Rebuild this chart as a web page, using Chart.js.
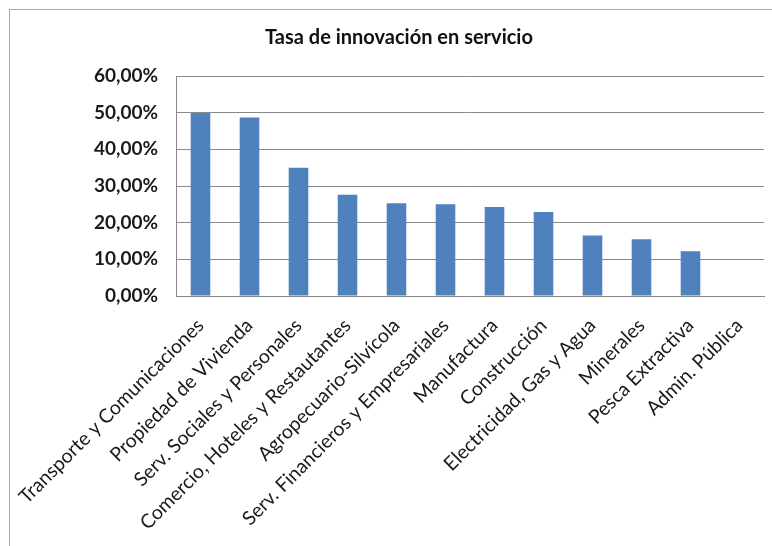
<!DOCTYPE html>
<html lang="es">
<head>
<meta charset="utf-8">
<title>Tasa de innovación en servicio</title>
<script src="https://cdn.jsdelivr.net/npm/chart.js@4.4.1/dist/chart.umd.min.js"></script>
<style>
    html, body { margin: 0; padding: 0; background: #fff; overflow: hidden; }
    #wrap { position: relative; width: 772px; height: 546px; }
    #frame {
        position: absolute; left: 9px; top: 9px; width: 800px; height: 600px;
        border: 1px solid #a9a9a9; box-sizing: border-box;
    }
    canvas { position: absolute; left: 0; top: 0; }
</style>
</head>
<body>
<div id="wrap">
    <div id="frame"></div>
    <canvas id="chart" width="772" height="546"></canvas>
</div>
<script>
const sectores = [
    'Transporte y Comunicaciones',
    'Propiedad de Vivienda',
    'Serv. Sociales y Personales',
    'Comercio, Hoteles y Restautantes',
    'Agropecuario-Silvícola',
    'Serv. Financieros y Empresariales',
    'Manufactura',
    'Construcción',
    'Electricidad, Gas y Agua',
    'Minerales',
    'Pesca Extractiva',
    'Admin. Pública',
];

// tasa en porcentaje
const tasaInnovacion = [49.9, 48.7, 35.0, 27.6, 25.3, 25.0, 24.3, 22.9, 16.5, 15.5, 12.2, 0];

const ejeMax = 60;
const ejePaso = 10;

const FONT = 'Lato, "Open Sans", sans-serif';
const GRIS = '#8a8a8a';

function formatoPct(v) {
    return v.toFixed(2).replace('.', ',') + '%';
}

new Chart(document.getElementById('chart'), {
    type: 'bar',
    data: {
        labels: sectores,
        datasets: [{
            data: tasaInnovacion,
            backgroundColor: '#4f81bd',
            borderWidth: 0,
            categoryPercentage: 1,
            barPercentage: 0.4,
        }],
    },
    options: {
        responsive: false,
        animation: false,
        layout: { padding: { left: 34, right: 8, top: 0, bottom: 0 } },
        plugins: {
            legend: { display: false },
            tooltip: { enabled: false },
            title: {
                display: true,
                text: 'Tasa de innovación en servicio',
                color: '#111',
                font: { family: FONT, size: 20, weight: 'bold' },
                padding: { top: 26, bottom: 26 },
            },
        },
        scales: {
            x: {
                grid: { display: false },
                border: { display: true, color: GRIS },
                ticks: {
                    autoSkip: false,
                    minRotation: 45,
                    maxRotation: 45,
                    padding: 10,
                    color: '#1a1a1a',
                    font: { family: FONT, size: 19.5 },
                },
                afterFit: (scale) => { scale.height = 250; },
            },
            y: {
                min: 0,
                max: ejeMax,
                grid: { color: GRIS, drawTicks: false },
                border: { display: true, color: GRIS },
                ticks: {
                    stepSize: ejePaso,
                    padding: 18,
                    color: '#1a1a1a',
                    font: { family: FONT, size: 19, weight: 'bold' },
                    callback: formatoPct,
                },
                afterFit: (scale) => { scale.width = 142; },
            },
        },
    },
});
</script>
</body>
</html>
